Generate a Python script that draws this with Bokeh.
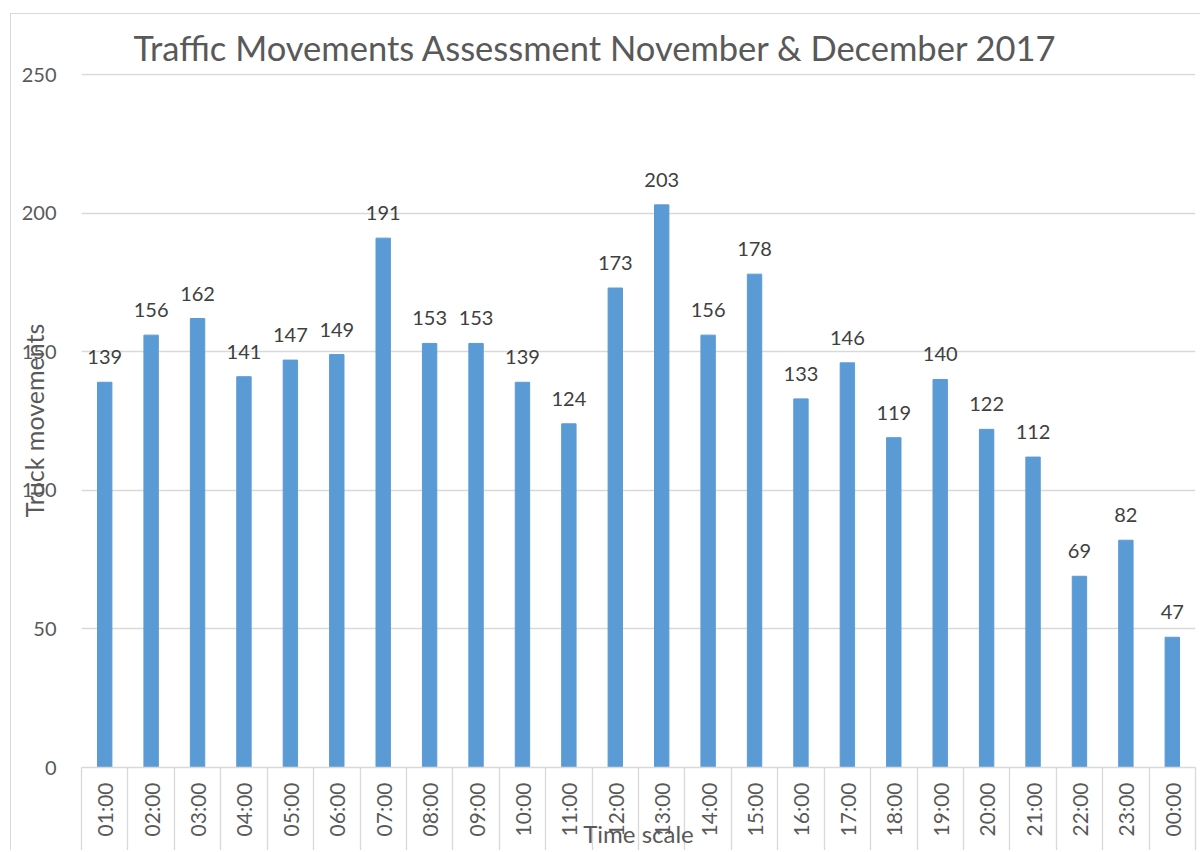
import math
from bokeh.plotting import figure
from bokeh.models import ColumnDataSource, LabelSet, FixedTicker, Range1d
from bokeh.core.properties import value
from bokeh.embed import file_html
from bokeh.resources import INLINE

hours = ["01:00", "02:00", "03:00", "04:00", "05:00", "06:00", "07:00", "08:00",
         "09:00", "10:00", "11:00", "12:00", "13:00", "14:00", "15:00", "16:00",
         "17:00", "18:00", "19:00", "20:00", "21:00", "22:00", "23:00", "00:00"]
movements = [139, 156, 162, 141, 147, 149, 191, 153, 153, 139, 124, 173,
             203, 156, 178, 133, 146, 119, 140, 122, 112, 69, 82, 47]
y_ticks = [0, 50, 100, 150, 200, 250]

FONT = "Lato"
GREY = "#595959"

pos = list(range(1, len(hours) + 1))
src = ColumnDataSource(dict(x=pos, y=movements, lab=[str(v) for v in movements]))

p = figure(width=1190, height=837, output_backend="svg", toolbar_location=None,
           x_range=Range1d(0.5, len(hours) + 0.5), y_range=Range1d(0, 250.4),
           min_border_left=70, min_border_right=6, min_border_top=59, min_border_bottom=84)
p.margin = (13, 0, 0, 10)
p.styles = {"border-left": "1.5px solid #d9d9d9", "border-top": "1.5px solid #d9d9d9"}

p.title.text = "Traffic Movements Assessment November & December 2017"
p.title.text_font = FONT
p.title.text_font_size = "34.5px"
p.title.text_font_style = "normal"
p.title.text_color = GREY
p.title.align = "left"
p.title.offset = 52
p.title.standoff = 12

p.vbar(x="x", top="y", width=0.31, source=src, color="#5b9bd5")

labels = LabelSet(x="x", y="y", text="lab", source=src, text_align="center",
                  text_baseline="alphabetic", y_offset=18, text_font=value(FONT),
                  text_font_size="20px", text_color="#404040")
p.add_layout(labels)

p.outline_line_color = None
p.xgrid.grid_line_color = None
p.ygrid.grid_line_color = "#d9d9d9"
p.ygrid.grid_line_width = 1.3

ya = p.yaxis[0]
ya.ticker = FixedTicker(ticks=y_ticks)
ya.axis_line_color = None
ya.major_tick_line_color = None
ya.minor_tick_line_color = None
ya.major_label_standoff = 19
ya.major_label_text_font = FONT
ya.major_label_text_font_size = "20px"
ya.major_label_text_color = GREY
ya.axis_label = "Truck movements"
ya.axis_label_text_font = FONT
ya.axis_label_text_font_size = "25px"
ya.axis_label_text_font_style = "normal"
ya.axis_label_text_color = GREY
ya.axis_label_standoff = -30

xa = p.xaxis[0]
xa.ticker = FixedTicker(ticks=pos, minor_ticks=[i + 0.5 for i in range(len(hours) + 1)])
xa.major_label_overrides = {i: h for i, h in zip(pos, hours)}
xa.major_label_orientation = math.pi / 2
xa.axis_line_color = "#d9d9d9"
xa.axis_line_width = 1.3
xa.major_tick_line_color = None
xa.minor_tick_out = 120
xa.minor_tick_in = 0
xa.minor_tick_line_color = "#d9d9d9"
xa.minor_tick_line_width = 1.3
xa.major_label_standoff = -105
xa.major_label_text_font = FONT
xa.major_label_text_font_size = "21px"
xa.major_label_text_color = GREY
xa.axis_label = "Time scale"
xa.axis_label_text_font = FONT
xa.axis_label_text_font_size = "24px"
xa.axis_label_text_font_style = "normal"
xa.axis_label_text_color = GREY
xa.axis_label_standoff = -20

open("out.html", "w").write(file_html(p, INLINE))
